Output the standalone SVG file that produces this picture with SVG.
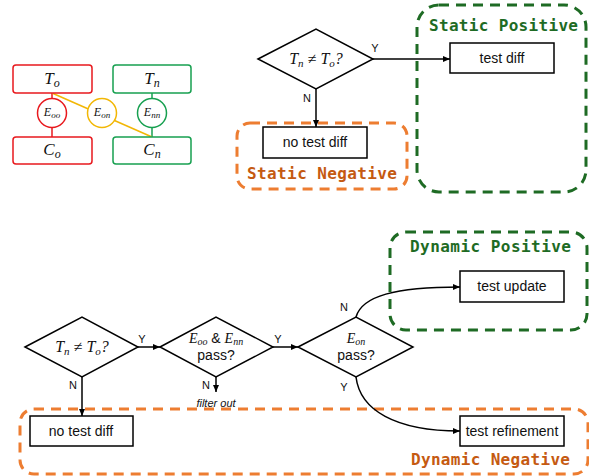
<svg xmlns="http://www.w3.org/2000/svg" width="589" height="476" viewBox="0 0 589 476">
<defs>
<marker id="ah" markerWidth="8" markerHeight="8" refX="7" refY="4" orient="auto" markerUnits="userSpaceOnUse">
<path d="M0,1 L7,4 L0,7 Z" fill="#000"/>
</marker>
<style>
.box{fill:#fff;stroke:#000;stroke-width:1.5}
.dia{fill:#fff;stroke:#000;stroke-width:1.5}
.txt{font-family:"Liberation Sans",Arial,sans-serif;font-size:14px;fill:#111;text-anchor:middle}
.lbl{font-family:"Liberation Sans",Arial,sans-serif;font-size:11px;fill:#111;text-anchor:middle}
.math{font-family:"Liberation Serif","Times New Roman",serif;font-style:italic;fill:#111;text-anchor:middle}
.con{fill:none;stroke:#000;stroke-width:1.5}
.grp-o{fill:none;stroke:#ED7D31;stroke-width:3;stroke-dasharray:10 7}
.grp-g{fill:none;stroke:#1E6B24;stroke-width:3;stroke-dasharray:10 7}
.gt-o{font-family:"DejaVu Sans Mono","Liberation Mono",monospace;font-weight:bold;font-size:16px;fill:#C55A11}
.gt-g{font-family:"DejaVu Sans Mono","Liberation Mono",monospace;font-weight:bold;font-size:16px;fill:#1E6B24}
</style>
</defs>
<rect width="589" height="476" fill="#fff"/>

<!-- groups (dashed regions) -->
<g id="static-negative">
<rect class="grp-o" x="237" y="123" width="170" height="66" rx="13"/>
<text class="gt-o" x="247" y="179" textLength="150">Static Negative</text>
</g>
<g id="static-positive">
<rect class="grp-g" x="417" y="5" width="169" height="187" rx="22"/>
<text class="gt-g" x="429" y="31" textLength="149">Static Positive</text>
</g>
<g id="dynamic-positive">
<rect class="grp-g" x="390" y="232" width="197" height="98" rx="16"/>
<text class="gt-g" x="410" y="252" textLength="161">Dynamic Positive</text>
</g>
<g id="dynamic-negative">
<rect class="grp-o" x="20" y="409" width="568" height="65" rx="14"/>
<text class="gt-o" x="411" y="465" textLength="159">Dynamic Negative</text>
</g>

<!-- left entity diagram -->
<g id="entity-edges">
<line x1="52" y1="93" x2="52" y2="137" stroke="#E8191E" stroke-width="1.5"/>
<line x1="152" y1="93" x2="152" y2="137" stroke="#17A050" stroke-width="1.5"/>
<line x1="52" y1="93" x2="152" y2="137" stroke="#F2B705" stroke-width="1.5"/>
</g>
<g id="T_o">
<rect x="13" y="65" width="79" height="28" rx="3" fill="#fff" stroke="#E8191E" stroke-width="1.5"/>
<text class="math" x="52" y="84" font-size="17">T<tspan font-size="12" dy="3">o</tspan></text>
</g>
<g id="C_o">
<rect x="13" y="137" width="79" height="27" rx="3" fill="#fff" stroke="#E8191E" stroke-width="1.5"/>
<text class="math" x="52" y="155" font-size="17">C<tspan font-size="12" dy="3">o</tspan></text>
</g>
<g id="T_n">
<rect x="113" y="65" width="78" height="28" rx="3" fill="#fff" stroke="#17A050" stroke-width="1.5"/>
<text class="math" x="152" y="84" font-size="17">T<tspan font-size="12" dy="3">n</tspan></text>
</g>
<g id="C_n">
<rect x="113" y="137" width="78" height="27" rx="3" fill="#fff" stroke="#17A050" stroke-width="1.5"/>
<text class="math" x="152" y="155" font-size="17">C<tspan font-size="12" dy="3">n</tspan></text>
</g>
<g id="E_oo">
<circle cx="52" cy="113" r="14.5" fill="#fff" stroke="#E8191E" stroke-width="1.5"/>
<text class="math" x="52" y="116" font-size="12">E<tspan font-size="9" dy="2">oo</tspan></text>
</g>
<g id="E_on">
<circle cx="102" cy="113" r="14.5" fill="#fff" stroke="#F2B705" stroke-width="1.5"/>
<text class="math" x="102" y="116" font-size="12">E<tspan font-size="9" dy="2">on</tspan></text>
</g>
<g id="E_nn">
<circle cx="152" cy="113" r="14.5" fill="#fff" stroke="#17A050" stroke-width="1.5"/>
<text class="math" x="152" y="116" font-size="12">E<tspan font-size="9" dy="2">nn</tspan></text>
</g>

<!-- connectors -->
<g id="connectors">
<line class="con" x1="373" y1="59" x2="450" y2="59" marker-end="url(#ah)"/>
<line class="con" x1="316" y1="89" x2="316" y2="127" marker-end="url(#ah)"/>
<line class="con" x1="138" y1="347" x2="160" y2="347" marker-end="url(#ah)"/>
<line class="con" x1="273" y1="347" x2="298" y2="347" marker-end="url(#ah)"/>
<line class="con" x1="82" y1="377" x2="82" y2="416" marker-end="url(#ah)"/>
<line class="con" x1="216" y1="377" x2="216" y2="392" marker-end="url(#ah)"/>
<path class="con" d="M356,317 C362,296 395,287 460,287" marker-end="url(#ah)"/>
<path class="con" d="M356,377 C360,410 395,431 460,431" marker-end="url(#ah)"/>
<text class="lbl" x="375" y="52">Y</text>
<text class="lbl" x="307" y="102">N</text>
<text class="lbl" x="142" y="343">Y</text>
<text class="lbl" x="73" y="389">N</text>
<text class="lbl" x="278" y="343">Y</text>
<text class="lbl" x="206" y="389">N</text>
<text class="lbl" x="344" y="311">N</text>
<text class="lbl" x="344" y="391">Y</text>
<text class="lbl" x="216" y="407" font-style="italic" font-size="10.5">filter out</text>
</g>

<!-- top flow nodes -->
<g id="static-decision">
<polygon class="dia" points="258,59 316,29 373,59 316,89"/>
<text class="math" x="316" y="64" font-size="16">T<tspan font-size="11" dy="3">n</tspan><tspan dy="-3"> ≠ T</tspan><tspan font-size="11" dy="3">o</tspan><tspan dy="-3">?</tspan></text>
</g>
<g id="test-diff">
<rect class="box" x="450" y="43" width="104" height="30"/>
<text class="txt" x="502" y="63">test diff</text>
</g>
<g id="no-test-diff-static">
<rect class="box" x="263" y="127" width="104" height="31"/>
<text class="txt" x="315" y="147">no test diff</text>
</g>

<!-- bottom flow nodes -->
<g id="dynamic-decision">
<polygon class="dia" points="25,347 82,317 138,347 82,377"/>
<text class="math" x="82" y="352" font-size="16">T<tspan font-size="11" dy="3">n</tspan><tspan dy="-3"> ≠ T</tspan><tspan font-size="11" dy="3">o</tspan><tspan dy="-3">?</tspan></text>
</g>
<g id="eoo-enn-decision">
<polygon class="dia" points="160,347 216,317 273,347 216,377"/>
<text class="math" x="216" y="343" font-size="14">E<tspan font-size="10" dy="2">oo</tspan><tspan dy="-2" font-style="normal" font-family="Liberation Sans, sans-serif"> &amp; </tspan>E<tspan font-size="10" dy="2">nn</tspan></text>
<text class="txt" x="216" y="360">pass?</text>
</g>
<g id="eon-decision">
<polygon class="dia" points="298,347 356,317 413,347 356,377"/>
<text class="math" x="356" y="343" font-size="14">E<tspan font-size="10" dy="2">on</tspan></text>
<text class="txt" x="356" y="360">pass?</text>
</g>
<g id="no-test-diff-dynamic">
<rect class="box" x="30" y="416" width="103" height="30"/>
<text class="txt" x="81" y="436">no test diff</text>
</g>
<g id="test-update">
<rect class="box" x="460" y="271" width="104" height="31"/>
<text class="txt" x="512" y="291">test update</text>
</g>
<g id="test-refinement">
<rect class="box" x="460" y="416" width="104" height="30"/>
<text class="txt" x="512" y="436">test refinement</text>
</g>
</svg>
